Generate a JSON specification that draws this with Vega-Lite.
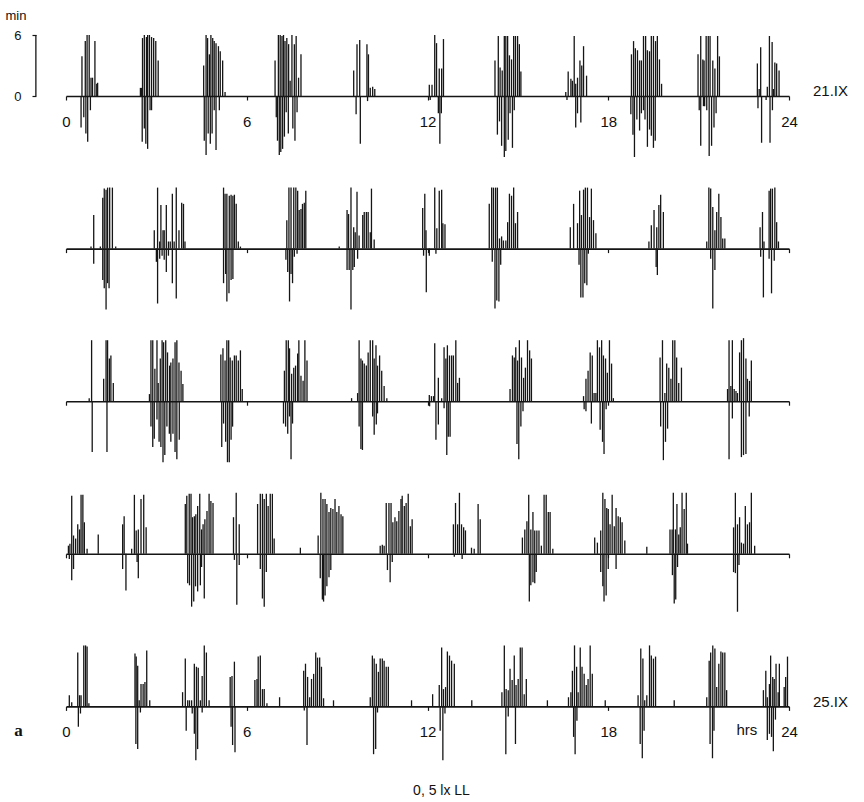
{
  "$schema": "https://vega.github.io/schema/vega-lite/v6.json",
  "background": "white",
  "padding": {"left": 5, "top": 10, "right": 5, "bottom": 2},
  "config": {"view": {"stroke": null}, "font": "Liberation Sans", "axis": {"grid": false, "labelFlush": false, "labelOverlap": false}},
  "datasets": {
    "bars": [
      {"d":1,"t":0.53,"v":3.9},{"d":1,"t":0.64,"v":5.4},{"d":1,"t":0.70,"v":6},{"d":1,"t":0.77,"v":6},{"d":1,"t":0.83,"v":1.8},{"d":1,"t":0.88,"v":1.8},{"d":1,"t":0.96,"v":5.4},{"d":1,"t":1.02,"v":1.2},{"d":1,"t":1.05,"v":1.3},
      {"d":1,"t":0.50,"v":-3.1},{"d":1,"t":0.59,"v":-2.1},{"d":1,"t":0.66,"v":-3.7},{"d":1,"t":0.72,"v":-4.5},{"d":1,"t":0.81,"v":-1.4},
      {"d":1,"t":2.47,"v":0.8},{"d":1,"t":2.51,"v":0.8},{"d":1,"t":2.54,"v":5.7},{"d":1,"t":2.60,"v":6},{"d":1,"t":2.67,"v":5.8},{"d":1,"t":2.71,"v":6},{"d":1,"t":2.77,"v":6},{"d":1,"t":2.84,"v":5.8},{"d":1,"t":2.91,"v":5.7},{"d":1,"t":2.98,"v":5.4},{"d":1,"t":3.06,"v":3.5},
      {"d":1,"t":2.53,"v":-4.5},{"d":1,"t":2.60,"v":-3.2},{"d":1,"t":2.65,"v":-4.7},{"d":1,"t":2.71,"v":-5.2},{"d":1,"t":2.79,"v":-1.4},{"d":1,"t":2.84,"v":-1.4},
      {"d":1,"t":4.57,"v":3.0},{"d":1,"t":4.65,"v":6},{"d":1,"t":4.70,"v":5.7},{"d":1,"t":4.76,"v":4.1},{"d":1,"t":4.81,"v":6},{"d":1,"t":4.87,"v":5.7},{"d":1,"t":4.92,"v":5.4},{"d":1,"t":4.98,"v":5.2},{"d":1,"t":5.06,"v":4.9},{"d":1,"t":5.12,"v":4.4},{"d":1,"t":5.20,"v":3.5},{"d":1,"t":5.28,"v":0.4},
      {"d":1,"t":4.59,"v":-4.4},{"d":1,"t":4.65,"v":-5.8},{"d":1,"t":4.72,"v":-3.7},{"d":1,"t":4.79,"v":-4.7},{"d":1,"t":4.85,"v":-3.7},{"d":1,"t":4.92,"v":-1.4},{"d":1,"t":4.98,"v":-5.3},{"d":1,"t":5.09,"v":-1.4},
      {"d":1,"t":6.94,"v":3.5},{"d":1,"t":7.05,"v":6},{"d":1,"t":7.11,"v":6},{"d":1,"t":7.17,"v":5.9},{"d":1,"t":7.22,"v":6},{"d":1,"t":7.27,"v":5.4},{"d":1,"t":7.33,"v":5.7},{"d":1,"t":7.39,"v":5.1},{"d":1,"t":7.44,"v":1.5},{"d":1,"t":7.50,"v":6},{"d":1,"t":7.58,"v":5.1},{"d":1,"t":7.64,"v":5.9},{"d":1,"t":7.72,"v":1.8},{"d":1,"t":7.80,"v":4.1},
      {"d":1,"t":6.98,"v":-2.1},{"d":1,"t":7.02,"v":-4.4},{"d":1,"t":7.08,"v":-5.8},{"d":1,"t":7.13,"v":-5.5},{"d":1,"t":7.19,"v":-5.2},{"d":1,"t":7.25,"v":-4.0},{"d":1,"t":7.31,"v":-1.6},{"d":1,"t":7.38,"v":-3.7},{"d":1,"t":7.53,"v":-3.2},{"d":1,"t":7.60,"v":-4.4},{"d":1,"t":7.67,"v":-1.6},
      {"d":1,"t":9.55,"v":2.5},{"d":1,"t":9.66,"v":5.1},{"d":1,"t":9.75,"v":5.5},{"d":1,"t":9.99,"v":5.1},{"d":1,"t":10.04,"v":4.1},{"d":1,"t":10.10,"v":0.8},{"d":1,"t":10.18,"v":0.9},{"d":1,"t":10.25,"v":0.7},
      {"d":1,"t":9.63,"v":-1.8},{"d":1,"t":9.77,"v":-4.7},{"d":1,"t":10.01,"v":-0.5},
      {"d":1,"t":12.06,"v":1.1},{"d":1,"t":12.15,"v":1.1},{"d":1,"t":12.24,"v":6},{"d":1,"t":12.30,"v":5.2},{"d":1,"t":12.39,"v":2.7},{"d":1,"t":12.47,"v":2.7},{"d":1,"t":12.53,"v":5.6},
      {"d":1,"t":12.09,"v":-0.4},{"d":1,"t":12.36,"v":-1.7},{"d":1,"t":12.41,"v":-4.7},{"d":1,"t":12.46,"v":-1.7},
      {"d":1,"t":14.24,"v":3.5},{"d":1,"t":14.35,"v":5.9},{"d":1,"t":14.41,"v":2.8},{"d":1,"t":14.48,"v":2.5},{"d":1,"t":14.55,"v":5.9},{"d":1,"t":14.60,"v":5.9},{"d":1,"t":14.66,"v":5.9},{"d":1,"t":14.72,"v":4.0},{"d":1,"t":14.79,"v":3.6},{"d":1,"t":14.86,"v":5.9},{"d":1,"t":14.92,"v":5.9},{"d":1,"t":14.99,"v":5.9},{"d":1,"t":15.05,"v":5.1},{"d":1,"t":15.10,"v":2.4},
      {"d":1,"t":14.32,"v":-3.8},{"d":1,"t":14.39,"v":-2.5},{"d":1,"t":14.46,"v":-4.9},{"d":1,"t":14.55,"v":-6},{"d":1,"t":14.60,"v":-5.4},{"d":1,"t":14.68,"v":-4.3},{"d":1,"t":14.74,"v":-1.7},{"d":1,"t":14.82,"v":-5.1},{"d":1,"t":14.88,"v":-1.4},
      {"d":1,"t":16.59,"v":0.4},{"d":1,"t":16.67,"v":2.4},{"d":1,"t":16.76,"v":1.7},{"d":1,"t":16.81,"v":1.5},{"d":1,"t":16.87,"v":5.9},{"d":1,"t":16.92,"v":1.2},{"d":1,"t":16.98,"v":1.8},{"d":1,"t":17.06,"v":3.5},{"d":1,"t":17.12,"v":3.0},{"d":1,"t":17.18,"v":4.9},{"d":1,"t":17.28,"v":2.0},
      {"d":1,"t":16.63,"v":-0.4},{"d":1,"t":16.92,"v":-3.1},{"d":1,"t":16.98,"v":-1.7},{"d":1,"t":17.09,"v":-2.6},
      {"d":1,"t":18.77,"v":4.1},{"d":1,"t":18.84,"v":5.4},{"d":1,"t":18.90,"v":4.7},{"d":1,"t":18.97,"v":4.5},{"d":1,"t":19.04,"v":3.5},{"d":1,"t":19.10,"v":3.5},{"d":1,"t":19.17,"v":5.9},{"d":1,"t":19.24,"v":5.9},{"d":1,"t":19.30,"v":4.5},{"d":1,"t":19.37,"v":4.4},{"d":1,"t":19.43,"v":5.9},{"d":1,"t":19.50,"v":5.9},{"d":1,"t":19.57,"v":5.4},{"d":1,"t":19.63,"v":5.9},{"d":1,"t":19.70,"v":3.6},{"d":1,"t":19.77,"v":1.2},
      {"d":1,"t":18.75,"v":-1.8},{"d":1,"t":18.82,"v":-3.8},{"d":1,"t":18.87,"v":-6},{"d":1,"t":18.95,"v":-2.3},{"d":1,"t":19.04,"v":-3.4},{"d":1,"t":19.10,"v":-1.7},{"d":1,"t":19.17,"v":-1.4},{"d":1,"t":19.22,"v":-2.3},{"d":1,"t":19.30,"v":-5.0},{"d":1,"t":19.37,"v":-3.3},{"d":1,"t":19.43,"v":-3.9},{"d":1,"t":19.50,"v":-5.1},{"d":1,"t":19.56,"v":-4.4},
      {"d":1,"t":20.98,"v":4.1},{"d":1,"t":21.07,"v":5.9},{"d":1,"t":21.14,"v":3.6},{"d":1,"t":21.18,"v":3.5},{"d":1,"t":21.25,"v":5.9},{"d":1,"t":21.32,"v":5.9},{"d":1,"t":21.38,"v":5.9},{"d":1,"t":21.47,"v":3.5},{"d":1,"t":21.54,"v":2.7},{"d":1,"t":21.63,"v":5.9},{"d":1,"t":21.69,"v":3.9},
      {"d":1,"t":21.02,"v":-1.4},{"d":1,"t":21.07,"v":-4.9},{"d":1,"t":21.16,"v":-1.0},{"d":1,"t":21.20,"v":-1.0},{"d":1,"t":21.27,"v":-1.4},{"d":1,"t":21.35,"v":-5.9},{"d":1,"t":21.43,"v":-4.9},{"d":1,"t":21.51,"v":-3.1},{"d":1,"t":21.58,"v":-1.7},
      {"d":1,"t":22.95,"v":3.2},{"d":1,"t":23.01,"v":0.7},{"d":1,"t":23.06,"v":4.8},{"d":1,"t":23.28,"v":0.9},{"d":1,"t":23.35,"v":5.9},{"d":1,"t":23.44,"v":5.3},{"d":1,"t":23.48,"v":0.7},{"d":1,"t":23.53,"v":3.3},{"d":1,"t":23.59,"v":3.2},{"d":1,"t":23.67,"v":2.5},
      {"d":1,"t":22.97,"v":-1.2},{"d":1,"t":23.09,"v":-4.6},{"d":1,"t":23.24,"v":-0.4},{"d":1,"t":23.37,"v":-4.6},{"d":1,"t":23.45,"v":-1.4},

      {"d":2,"t":0.83,"v":0.2},{"d":2,"t":0.92,"v":3.3},{"d":2,"t":1.14,"v":0.2},{"d":2,"t":1.22,"v":5.0},{"d":2,"t":1.27,"v":5.9},{"d":2,"t":1.33,"v":5.8},{"d":2,"t":1.38,"v":6},{"d":2,"t":1.45,"v":6},{"d":2,"t":1.54,"v":6},{"d":2,"t":1.65,"v":0.2},
      {"d":2,"t":0.92,"v":-1.5},{"d":2,"t":1.22,"v":-3.1},{"d":2,"t":1.27,"v":-3.9},{"d":2,"t":1.33,"v":-6.0},{"d":2,"t":1.38,"v":-3.4},{"d":2,"t":1.43,"v":-3.9},
      {"d":2,"t":2.93,"v":1.8},{"d":2,"t":3.04,"v":6},{"d":2,"t":3.11,"v":0.7},{"d":2,"t":3.15,"v":4.3},{"d":2,"t":3.22,"v":1.8},{"d":2,"t":3.26,"v":1.8},{"d":2,"t":3.33,"v":4.3},{"d":2,"t":3.40,"v":0.7},{"d":2,"t":3.46,"v":0.7},{"d":2,"t":3.53,"v":5.4},{"d":2,"t":3.59,"v":0.7},{"d":2,"t":3.66,"v":6},{"d":2,"t":3.75,"v":1.8},{"d":2,"t":3.84,"v":4.5},{"d":2,"t":3.90,"v":4.4},{"d":2,"t":3.95,"v":0.7},
      {"d":2,"t":3.00,"v":-1.3},{"d":2,"t":3.04,"v":-5.4},{"d":2,"t":3.11,"v":-1.0},{"d":2,"t":3.19,"v":-0.7},{"d":2,"t":3.26,"v":-1.1},{"d":2,"t":3.33,"v":-2.3},{"d":2,"t":3.40,"v":-0.7},{"d":2,"t":3.53,"v":-3.4},{"d":2,"t":3.66,"v":-4.9},
      {"d":2,"t":5.23,"v":6},{"d":2,"t":5.28,"v":5.4},{"d":2,"t":5.34,"v":5.4},{"d":2,"t":5.42,"v":5.2},{"d":2,"t":5.48,"v":5.3},{"d":2,"t":5.54,"v":5.2},{"d":2,"t":5.59,"v":5.3},{"d":2,"t":5.65,"v":4.4},{"d":2,"t":5.72,"v":0.7},{"d":2,"t":5.79,"v":0.2},
      {"d":2,"t":5.23,"v":-3.4},{"d":2,"t":5.30,"v":-2.5},{"d":2,"t":5.34,"v":-5.2},{"d":2,"t":5.41,"v":-4.4},{"d":2,"t":5.48,"v":-3.1},{"d":2,"t":5.54,"v":-3.0},
      {"d":2,"t":7.33,"v":2.8},{"d":2,"t":7.40,"v":6},{"d":2,"t":7.47,"v":6},{"d":2,"t":7.56,"v":6},{"d":2,"t":7.63,"v":6},{"d":2,"t":7.69,"v":5.7},{"d":2,"t":7.74,"v":3.8},{"d":2,"t":7.80,"v":3.9},{"d":2,"t":7.85,"v":4.4},{"d":2,"t":7.91,"v":4.5},{"d":2,"t":7.96,"v":5.7},
      {"d":2,"t":7.30,"v":-1.1},{"d":2,"t":7.36,"v":-2.3},{"d":2,"t":7.42,"v":-5.2},{"d":2,"t":7.47,"v":-2.5},{"d":2,"t":7.52,"v":-3.4},{"d":2,"t":7.58,"v":-0.8},{"d":2,"t":7.67,"v":-0.5},
      {"d":2,"t":9.07,"v":0.2},{"d":2,"t":9.33,"v":3.8},{"d":2,"t":9.38,"v":3.4},{"d":2,"t":9.46,"v":6},{"d":2,"t":9.55,"v":2.1},{"d":2,"t":9.60,"v":1.6},{"d":2,"t":9.66,"v":5.6},{"d":2,"t":9.73,"v":1.3},{"d":2,"t":9.85,"v":3.3},{"d":2,"t":9.90,"v":3.6},{"d":2,"t":9.97,"v":3.6},{"d":2,"t":10.03,"v":3.6},{"d":2,"t":10.10,"v":1.6},{"d":2,"t":10.14,"v":5.9},{"d":2,"t":10.23,"v":0.9},
      {"d":2,"t":9.33,"v":-2.1},{"d":2,"t":9.40,"v":-2.1},{"d":2,"t":9.46,"v":-6.0},{"d":2,"t":9.52,"v":-2.1},{"d":2,"t":9.57,"v":-1.8},{"d":2,"t":9.68,"v":-1.0},
      {"d":2,"t":11.84,"v":4.0},{"d":2,"t":11.91,"v":5.4},{"d":2,"t":11.95,"v":1.8},{"d":2,"t":12.24,"v":6},{"d":2,"t":12.31,"v":2.0},{"d":2,"t":12.39,"v":5.7},{"d":2,"t":12.47,"v":5.8},{"d":2,"t":12.51,"v":2.5},{"d":2,"t":12.58,"v":2.4},
      {"d":2,"t":11.87,"v":-0.7},{"d":2,"t":11.96,"v":-4.3},{"d":2,"t":12.06,"v":-0.7},{"d":2,"t":12.28,"v":-0.5},
      {"d":2,"t":14.05,"v":4.4},{"d":2,"t":14.13,"v":6},{"d":2,"t":14.19,"v":6},{"d":2,"t":14.26,"v":6},{"d":2,"t":14.32,"v":6},{"d":2,"t":14.39,"v":1.0},{"d":2,"t":14.46,"v":1.2},{"d":2,"t":14.52,"v":0.8},{"d":2,"t":14.60,"v":0.8},{"d":2,"t":14.66,"v":2.6},{"d":2,"t":14.72,"v":5.4},{"d":2,"t":14.79,"v":5.2},{"d":2,"t":14.86,"v":6},{"d":2,"t":14.92,"v":2.5},{"d":2,"t":14.99,"v":3.6},
      {"d":2,"t":14.15,"v":-1.3},{"d":2,"t":14.24,"v":-5.9},{"d":2,"t":14.30,"v":-5.1},{"d":2,"t":14.37,"v":-5.2},{"d":2,"t":14.43,"v":-1.6},
      {"d":2,"t":16.74,"v":2.1},{"d":2,"t":16.85,"v":4.4},{"d":2,"t":16.98,"v":2.5},{"d":2,"t":17.05,"v":5.7},{"d":2,"t":17.11,"v":3.3},{"d":2,"t":17.18,"v":5.8},{"d":2,"t":17.24,"v":6},{"d":2,"t":17.31,"v":6},{"d":2,"t":17.38,"v":3.1},{"d":2,"t":17.44,"v":5.9},{"d":2,"t":17.51,"v":2.8},{"d":2,"t":17.59,"v":1.5},
      {"d":2,"t":17.03,"v":-1.6},{"d":2,"t":17.09,"v":-4.8},{"d":2,"t":17.16,"v":-4.8},{"d":2,"t":17.22,"v":-3.4},{"d":2,"t":17.29,"v":-3.6},{"d":2,"t":17.34,"v":-0.5},
      {"d":2,"t":19.35,"v":0.7},{"d":2,"t":19.43,"v":2.3},{"d":2,"t":19.52,"v":3.8},{"d":2,"t":19.61,"v":2.1},{"d":2,"t":19.68,"v":4.3},{"d":2,"t":19.74,"v":5.3},{"d":2,"t":19.83,"v":3.6},
      {"d":2,"t":19.59,"v":-1.8},{"d":2,"t":19.63,"v":-2.6},
      {"d":2,"t":21.27,"v":0.7},{"d":2,"t":21.34,"v":6},{"d":2,"t":21.40,"v":5.9},{"d":2,"t":21.47,"v":4.1},{"d":2,"t":21.54,"v":1.8},{"d":2,"t":21.60,"v":3.6},{"d":2,"t":21.67,"v":5.4},{"d":2,"t":21.74,"v":3.1},{"d":2,"t":21.80,"v":1.0},{"d":2,"t":21.87,"v":1.0},
      {"d":2,"t":21.40,"v":-1.0},{"d":2,"t":21.47,"v":-5.9},{"d":2,"t":21.54,"v":-2.1},
      {"d":2,"t":23.04,"v":2.1},{"d":2,"t":23.12,"v":3.6},{"d":2,"t":23.17,"v":0.7},{"d":2,"t":23.34,"v":5.7},{"d":2,"t":23.39,"v":5.9},{"d":2,"t":23.45,"v":5.9},{"d":2,"t":23.53,"v":6},{"d":2,"t":23.59,"v":2.6},{"d":2,"t":23.65,"v":0.7},
      {"d":2,"t":23.06,"v":-0.8},{"d":2,"t":23.15,"v":-4.8},{"d":2,"t":23.34,"v":-1.0},{"d":2,"t":23.42,"v":-4.4},{"d":2,"t":23.51,"v":-1.2},

      {"d":3,"t":0.77,"v":0.3},{"d":3,"t":0.85,"v":6},{"d":3,"t":1.25,"v":2.2},{"d":3,"t":1.33,"v":6},{"d":3,"t":1.38,"v":6},{"d":3,"t":1.44,"v":4.2},{"d":3,"t":1.49,"v":4.5},{"d":3,"t":1.57,"v":1.8},
      {"d":3,"t":0.87,"v":-5.0},{"d":3,"t":1.36,"v":-5.0},
      {"d":3,"t":2.77,"v":0.7},{"d":3,"t":2.82,"v":6},{"d":3,"t":2.88,"v":6},{"d":3,"t":2.95,"v":3.2},{"d":3,"t":3.02,"v":6},{"d":3,"t":3.06,"v":1.8},{"d":3,"t":3.13,"v":4.2},{"d":3,"t":3.19,"v":6},{"d":3,"t":3.24,"v":5.8},{"d":3,"t":3.31,"v":6},{"d":3,"t":3.37,"v":4.8},{"d":3,"t":3.44,"v":3.5},{"d":3,"t":3.48,"v":3.8},{"d":3,"t":3.55,"v":4.2},{"d":3,"t":3.62,"v":5.8},{"d":3,"t":3.68,"v":6},{"d":3,"t":3.75,"v":3.8},{"d":3,"t":3.82,"v":3.0},{"d":3,"t":3.88,"v":1.7},
      {"d":3,"t":2.82,"v":-2.5},{"d":3,"t":2.88,"v":-4.5},{"d":3,"t":2.93,"v":-3.7},{"d":3,"t":3.02,"v":-1.8},{"d":3,"t":3.09,"v":-4.0},{"d":3,"t":3.15,"v":-4.5},{"d":3,"t":3.22,"v":-6.0},{"d":3,"t":3.28,"v":-5.3},{"d":3,"t":3.35,"v":-2.5},{"d":3,"t":3.43,"v":-3.2},{"d":3,"t":3.48,"v":-4.0},{"d":3,"t":3.55,"v":-3.2},{"d":3,"t":3.62,"v":-5.0},{"d":3,"t":3.68,"v":-5.7},{"d":3,"t":3.76,"v":-3.8},
      {"d":3,"t":5.14,"v":4.6},{"d":3,"t":5.21,"v":5.2},{"d":3,"t":5.28,"v":4.0},{"d":3,"t":5.34,"v":6},{"d":3,"t":5.40,"v":6},{"d":3,"t":5.45,"v":4.3},{"d":3,"t":5.52,"v":4.0},{"d":3,"t":5.59,"v":4.5},{"d":3,"t":5.65,"v":4.5},{"d":3,"t":5.72,"v":4.0},{"d":3,"t":5.79,"v":5.0},{"d":3,"t":5.85,"v":1.2},
      {"d":3,"t":5.17,"v":-4.5},{"d":3,"t":5.23,"v":-2.2},{"d":3,"t":5.30,"v":-4.0},{"d":3,"t":5.36,"v":-6.0},{"d":3,"t":5.42,"v":-6.0},{"d":3,"t":5.48,"v":-3.8},{"d":3,"t":5.53,"v":-2.5},
      {"d":3,"t":7.25,"v":3.0},{"d":3,"t":7.31,"v":6},{"d":3,"t":7.38,"v":6},{"d":3,"t":7.42,"v":5.2},{"d":3,"t":7.49,"v":2.7},{"d":3,"t":7.56,"v":3.3},{"d":3,"t":7.62,"v":3.5},{"d":3,"t":7.69,"v":4.7},{"d":3,"t":7.73,"v":6},{"d":3,"t":7.80,"v":2.5},{"d":3,"t":7.87,"v":2.0},{"d":3,"t":7.93,"v":6},{"d":3,"t":8.00,"v":4.0},
      {"d":3,"t":7.22,"v":-2.2},{"d":3,"t":7.29,"v":-2.5},{"d":3,"t":7.36,"v":-3.2},{"d":3,"t":7.42,"v":-1.5},{"d":3,"t":7.47,"v":-5.7},{"d":3,"t":7.52,"v":-2.2},
      {"d":3,"t":9.48,"v":0.3},{"d":3,"t":9.68,"v":0.8},{"d":3,"t":9.73,"v":6},{"d":3,"t":9.79,"v":4.2},{"d":3,"t":9.84,"v":4.0},{"d":3,"t":9.90,"v":3.7},{"d":3,"t":9.97,"v":3.5},{"d":3,"t":10.03,"v":4.8},{"d":3,"t":10.10,"v":6},{"d":3,"t":10.18,"v":6},{"d":3,"t":10.23,"v":4.2},{"d":3,"t":10.29,"v":5.5},{"d":3,"t":10.34,"v":3.5},{"d":3,"t":10.41,"v":4.5},{"d":3,"t":10.48,"v":3.0},{"d":3,"t":10.56,"v":1.5},{"d":3,"t":10.65,"v":0.3},
      {"d":3,"t":9.73,"v":-2.5},{"d":3,"t":9.79,"v":-4.7},{"d":3,"t":9.84,"v":-4.8},{"d":3,"t":10.18,"v":-1.5},{"d":3,"t":10.23,"v":-3.3},{"d":3,"t":10.30,"v":-2.3},{"d":3,"t":10.34,"v":-1.2},
      {"d":3,"t":12.06,"v":0.6},{"d":3,"t":12.13,"v":0.5},{"d":3,"t":12.20,"v":0.5},{"d":3,"t":12.24,"v":5.7},{"d":3,"t":12.36,"v":2.3},{"d":3,"t":12.47,"v":0.3},{"d":3,"t":12.55,"v":5.3},{"d":3,"t":12.61,"v":4.2},{"d":3,"t":12.66,"v":5.5},{"d":3,"t":12.73,"v":4.5},{"d":3,"t":12.80,"v":4.5},{"d":3,"t":12.86,"v":4.5},{"d":3,"t":12.94,"v":6},{"d":3,"t":13.00,"v":1.8},{"d":3,"t":13.06,"v":2.3},
      {"d":3,"t":12.07,"v":-0.5},{"d":3,"t":12.28,"v":-3.8},{"d":3,"t":12.36,"v":-2.3},{"d":3,"t":12.55,"v":-0.7},{"d":3,"t":12.64,"v":-5.3},{"d":3,"t":12.69,"v":-3.5},{"d":3,"t":12.75,"v":-3.5},
      {"d":3,"t":14.74,"v":1.2},{"d":3,"t":14.82,"v":4.5},{"d":3,"t":14.88,"v":4.3},{"d":3,"t":14.93,"v":5.3},{"d":3,"t":14.99,"v":4.0},{"d":3,"t":15.05,"v":6},{"d":3,"t":15.12,"v":4.3},{"d":3,"t":15.19,"v":2.3},{"d":3,"t":15.25,"v":3.3},{"d":3,"t":15.32,"v":6},{"d":3,"t":15.39,"v":5.0},{"d":3,"t":15.45,"v":4.2},
      {"d":3,"t":14.97,"v":-4.2},{"d":3,"t":15.03,"v":-5.7},{"d":3,"t":15.10,"v":-2.5},{"d":3,"t":15.17,"v":-1.0},
      {"d":3,"t":17.18,"v":0.5},{"d":3,"t":17.26,"v":2.2},{"d":3,"t":17.33,"v":3.0},{"d":3,"t":17.40,"v":4.8},{"d":3,"t":17.47,"v":4.5},{"d":3,"t":17.53,"v":0.8},{"d":3,"t":17.59,"v":0.8},{"d":3,"t":17.64,"v":6},{"d":3,"t":17.71,"v":5.3},{"d":3,"t":17.78,"v":6},{"d":3,"t":17.84,"v":4.5},{"d":3,"t":17.91,"v":4.2},{"d":3,"t":17.97,"v":2.8},{"d":3,"t":18.04,"v":6},{"d":3,"t":18.11,"v":3.7},{"d":3,"t":18.17,"v":0.3},
      {"d":3,"t":17.20,"v":-0.8},{"d":3,"t":17.26,"v":-1.0},{"d":3,"t":17.44,"v":-2.2},{"d":3,"t":17.73,"v":-2.8},{"d":3,"t":17.81,"v":-4.0},{"d":3,"t":17.86,"v":-5.2},{"d":3,"t":17.93,"v":-0.8},
      {"d":3,"t":19.72,"v":4.3},{"d":3,"t":19.80,"v":6},{"d":3,"t":19.88,"v":0.8},{"d":3,"t":19.94,"v":3.7},{"d":3,"t":20.01,"v":3.3},{"d":3,"t":20.08,"v":2.2},{"d":3,"t":20.14,"v":6},{"d":3,"t":20.21,"v":6},{"d":3,"t":20.27,"v":4.3},{"d":3,"t":20.34,"v":1.8},{"d":3,"t":20.43,"v":3.3},
      {"d":3,"t":19.74,"v":-2.5},{"d":3,"t":19.83,"v":-5.8},{"d":3,"t":19.90,"v":-4.0},{"d":3,"t":19.97,"v":-2.7},
      {"d":3,"t":21.96,"v":1.2},{"d":3,"t":22.01,"v":6},{"d":3,"t":22.07,"v":1.5},{"d":3,"t":22.12,"v":6},{"d":3,"t":22.18,"v":1.2},{"d":3,"t":22.24,"v":1.0},{"d":3,"t":22.29,"v":0.8},{"d":3,"t":22.36,"v":4.8},{"d":3,"t":22.42,"v":6},{"d":3,"t":22.49,"v":6.2},{"d":3,"t":22.57,"v":4.2},{"d":3,"t":22.62,"v":2.2},{"d":3,"t":22.69,"v":2.0},{"d":3,"t":22.75,"v":4.0},
      {"d":3,"t":22.01,"v":-5.7},{"d":3,"t":22.12,"v":-1.7},{"d":3,"t":22.42,"v":-5.5},{"d":3,"t":22.49,"v":-5.3},{"d":3,"t":22.57,"v":-5.2},{"d":3,"t":22.68,"v":-1.5},

      {"d":4,"t":0.08,"v":0.8},{"d":4,"t":0.13,"v":1.0},{"d":4,"t":0.19,"v":5.7},{"d":4,"t":0.25,"v":1.8},{"d":4,"t":0.32,"v":1.5},{"d":4,"t":0.39,"v":2.9},{"d":4,"t":0.45,"v":2.4},{"d":4,"t":0.50,"v":5.8},{"d":4,"t":0.56,"v":5.8},{"d":4,"t":0.61,"v":3.1},{"d":4,"t":0.70,"v":0.5},{"d":4,"t":1.07,"v":1.9},
      {"d":4,"t":0.11,"v":-0.5},{"d":4,"t":0.19,"v":-2.6},{"d":4,"t":0.25,"v":-1.5},
      {"d":4,"t":1.88,"v":2.9},{"d":4,"t":1.93,"v":3.7},{"d":4,"t":2.18,"v":0.5},{"d":4,"t":2.27,"v":5.8},{"d":4,"t":2.33,"v":2.3},{"d":4,"t":2.40,"v":2.4},{"d":4,"t":2.49,"v":5.4},{"d":4,"t":2.58,"v":5.8},{"d":4,"t":2.66,"v":2.6},
      {"d":4,"t":1.88,"v":-1.5},{"d":4,"t":1.99,"v":-3.6},{"d":4,"t":2.36,"v":-0.8},{"d":4,"t":2.40,"v":-2.4},
      {"d":4,"t":3.96,"v":4.9},{"d":4,"t":4.01,"v":5.7},{"d":4,"t":4.09,"v":5.9},{"d":4,"t":4.15,"v":5.9},{"d":4,"t":4.20,"v":3.6},{"d":4,"t":4.26,"v":3.7},{"d":4,"t":4.31,"v":3.9},{"d":4,"t":4.37,"v":4.7},{"d":4,"t":4.44,"v":5.9},{"d":4,"t":4.50,"v":2.4},{"d":4,"t":4.55,"v":2.9},{"d":4,"t":4.61,"v":3.4},{"d":4,"t":4.68,"v":4.2},{"d":4,"t":4.75,"v":5.9},{"d":4,"t":4.81,"v":5.2},{"d":4,"t":4.88,"v":5.0},
      {"d":4,"t":4.04,"v":-2.9},{"d":4,"t":4.10,"v":-3.1},{"d":4,"t":4.17,"v":-5.2},{"d":4,"t":4.24,"v":-4.7},{"d":4,"t":4.30,"v":-3.2},{"d":4,"t":4.37,"v":-3.7},{"d":4,"t":4.46,"v":-3.1},{"d":4,"t":4.50,"v":-1.3},{"d":4,"t":4.59,"v":-4.4},
      {"d":4,"t":5.56,"v":3.6},{"d":4,"t":5.65,"v":6},{"d":4,"t":5.75,"v":2.9},
      {"d":4,"t":5.59,"v":-0.6},{"d":4,"t":5.67,"v":-5.0},{"d":4,"t":5.75,"v":-1.1},
      {"d":4,"t":6.36,"v":4.9},{"d":4,"t":6.45,"v":5.9},{"d":4,"t":6.52,"v":5.9},{"d":4,"t":6.58,"v":5.4},{"d":4,"t":6.65,"v":5.9},{"d":4,"t":6.71,"v":4.7},{"d":4,"t":6.78,"v":5.9},{"d":4,"t":6.85,"v":5.9},{"d":4,"t":6.91,"v":1.5},
      {"d":4,"t":6.45,"v":-1.5},{"d":4,"t":6.52,"v":-4.4},{"d":4,"t":6.58,"v":-5.2},{"d":4,"t":6.65,"v":-1.8},
      {"d":4,"t":7.78,"v":0.6},
      {"d":4,"t":8.37,"v":1.8},{"d":4,"t":8.46,"v":6},{"d":4,"t":8.53,"v":5.4},{"d":4,"t":8.60,"v":5.4},{"d":4,"t":8.66,"v":4.9},{"d":4,"t":8.73,"v":4.1},{"d":4,"t":8.79,"v":4.5},{"d":4,"t":8.86,"v":4.4},{"d":4,"t":8.93,"v":5.4},{"d":4,"t":8.99,"v":4.1},{"d":4,"t":9.06,"v":4.7},{"d":4,"t":9.13,"v":3.9},{"d":4,"t":9.19,"v":3.7},
      {"d":4,"t":8.44,"v":-2.4},{"d":4,"t":8.51,"v":-4.5},{"d":4,"t":8.55,"v":-4.7},{"d":4,"t":8.60,"v":-4.1},{"d":4,"t":8.66,"v":-3.2},{"d":4,"t":8.73,"v":-2.3},{"d":4,"t":8.79,"v":-1.6},
      {"d":4,"t":10.43,"v":0.8},{"d":4,"t":10.50,"v":0.9},{"d":4,"t":10.56,"v":0.8},{"d":4,"t":10.63,"v":5.0},{"d":4,"t":10.72,"v":5.0},{"d":4,"t":10.79,"v":5.0},{"d":4,"t":10.85,"v":3.1},{"d":4,"t":10.92,"v":3.6},{"d":4,"t":10.98,"v":3.2},{"d":4,"t":11.05,"v":4.2},{"d":4,"t":11.12,"v":5.4},{"d":4,"t":11.16,"v":5.7},{"d":4,"t":11.23,"v":4.7},{"d":4,"t":11.29,"v":5.0},{"d":4,"t":11.36,"v":5.9},{"d":4,"t":11.43,"v":2.7},{"d":4,"t":11.49,"v":3.4},
      {"d":4,"t":10.67,"v":-1.6},{"d":4,"t":10.76,"v":-2.8},{"d":4,"t":10.83,"v":-0.8},
      {"d":4,"t":12.86,"v":2.9},{"d":4,"t":12.93,"v":5.0},{"d":4,"t":13.00,"v":2.9},{"d":4,"t":13.06,"v":6},{"d":4,"t":13.13,"v":2.9},{"d":4,"t":13.20,"v":2.6},{"d":4,"t":13.26,"v":2.3},{"d":4,"t":13.46,"v":0.6},{"d":4,"t":13.55,"v":0.5},{"d":4,"t":13.68,"v":4.9},{"d":4,"t":13.75,"v":3.4},
      {"d":4,"t":12.89,"v":-0.3},{"d":4,"t":13.15,"v":-0.5},
      {"d":4,"t":15.15,"v":1.6},{"d":4,"t":15.23,"v":2.4},{"d":4,"t":15.30,"v":3.2},{"d":4,"t":15.36,"v":5.8},{"d":4,"t":15.43,"v":2.4},{"d":4,"t":15.50,"v":4.1},{"d":4,"t":15.56,"v":2.3},{"d":4,"t":15.63,"v":2.3},{"d":4,"t":15.70,"v":2.3},{"d":4,"t":15.78,"v":0.8},{"d":4,"t":15.87,"v":5.8},{"d":4,"t":15.94,"v":5.8},{"d":4,"t":16.01,"v":4.1},{"d":4,"t":16.07,"v":4.1},{"d":4,"t":16.16,"v":0.5},
      {"d":4,"t":15.38,"v":-4.7},{"d":4,"t":15.43,"v":-3.1},{"d":4,"t":15.50,"v":-2.8},{"d":4,"t":15.56,"v":-2.9},{"d":4,"t":15.61,"v":-1.8},
      {"d":4,"t":17.55,"v":1.6},{"d":4,"t":17.64,"v":1.1},{"d":4,"t":17.75,"v":2.3},{"d":4,"t":17.82,"v":6},{"d":4,"t":17.89,"v":5.4},{"d":4,"t":17.95,"v":4.5},{"d":4,"t":18.00,"v":4.4},{"d":4,"t":18.06,"v":2.9},{"d":4,"t":18.13,"v":5.8},{"d":4,"t":18.20,"v":2.7},{"d":4,"t":18.26,"v":4.5},{"d":4,"t":18.33,"v":3.7},{"d":4,"t":18.40,"v":3.6},{"d":4,"t":18.46,"v":3.1},{"d":4,"t":18.55,"v":1.3},
      {"d":4,"t":17.75,"v":-1.8},{"d":4,"t":17.82,"v":-3.2},{"d":4,"t":17.86,"v":-4.7},{"d":4,"t":17.93,"v":-4.1},{"d":4,"t":18.00,"v":-1.5},{"d":4,"t":18.26,"v":-1.5},
      {"d":4,"t":19.28,"v":0.7},
      {"d":4,"t":20.05,"v":2.4},{"d":4,"t":20.12,"v":2.4},{"d":4,"t":20.16,"v":6},{"d":4,"t":20.23,"v":2.4},{"d":4,"t":20.28,"v":4.9},{"d":4,"t":20.34,"v":1.9},{"d":4,"t":20.39,"v":2.6},{"d":4,"t":20.45,"v":6},{"d":4,"t":20.52,"v":4.4},{"d":4,"t":20.59,"v":6},{"d":4,"t":20.63,"v":1.0},
      {"d":4,"t":20.13,"v":-2.1},{"d":4,"t":20.19,"v":-4.9},{"d":4,"t":20.24,"v":-4.5},{"d":4,"t":20.30,"v":-1.3},
      {"d":4,"t":22.16,"v":2.6},{"d":4,"t":22.22,"v":6},{"d":4,"t":22.29,"v":2.9},{"d":4,"t":22.36,"v":3.6},{"d":4,"t":22.42,"v":1.1},{"d":4,"t":22.49,"v":1.0},{"d":4,"t":22.55,"v":4.7},{"d":4,"t":22.62,"v":2.9},{"d":4,"t":22.69,"v":3.1},{"d":4,"t":22.75,"v":6},{"d":4,"t":22.86,"v":0.8},
      {"d":4,"t":22.16,"v":-1.8},{"d":4,"t":22.22,"v":-1.9},{"d":4,"t":22.29,"v":-5.7},{"d":4,"t":22.34,"v":-1.1},

      {"d":5,"t":0.11,"v":1.1},{"d":5,"t":0.19,"v":0.4},{"d":5,"t":0.39,"v":5.3},{"d":5,"t":0.45,"v":1.1},{"d":5,"t":0.50,"v":1.1},{"d":5,"t":0.59,"v":6},{"d":5,"t":0.65,"v":6},{"d":5,"t":0.70,"v":5.9},{"d":5,"t":0.76,"v":0.3},
      {"d":5,"t":0.41,"v":-2.0},{"d":5,"t":0.48,"v":-0.7},
      {"d":5,"t":2.29,"v":5.2},{"d":5,"t":2.33,"v":4.9},{"d":5,"t":2.38,"v":4.0},{"d":5,"t":2.43,"v":0.6},{"d":5,"t":2.49,"v":2.2},{"d":5,"t":2.56,"v":2.2},{"d":5,"t":2.62,"v":2.4},{"d":5,"t":2.68,"v":5.5},{"d":5,"t":2.78,"v":0.6},
      {"d":5,"t":2.32,"v":-3.7},{"d":5,"t":2.38,"v":-4.2},{"d":5,"t":2.47,"v":-0.6},
      {"d":5,"t":3.87,"v":1.4},{"d":5,"t":3.96,"v":4.7},{"d":5,"t":4.04,"v":0.6},{"d":5,"t":4.10,"v":0.6},{"d":5,"t":4.17,"v":0.6},{"d":5,"t":4.26,"v":4.2},{"d":5,"t":4.33,"v":3.9},{"d":5,"t":4.39,"v":3.8},{"d":5,"t":4.46,"v":0.6},{"d":5,"t":4.52,"v":3.0},{"d":5,"t":4.59,"v":6},{"d":5,"t":4.66,"v":5.3},{"d":5,"t":4.75,"v":0.6},
      {"d":5,"t":3.99,"v":-2.4},{"d":5,"t":4.19,"v":-0.7},{"d":5,"t":4.26,"v":-2.7},{"d":5,"t":4.31,"v":-5.3},{"d":5,"t":4.37,"v":-4.2},{"d":5,"t":4.52,"v":-0.6},
      {"d":5,"t":5.45,"v":2.9},{"d":5,"t":5.51,"v":3.0},{"d":5,"t":5.59,"v":4.4},
      {"d":5,"t":5.48,"v":-2.0},{"d":5,"t":5.53,"v":-3.8},{"d":5,"t":5.61,"v":-4.5},
      {"d":5,"t":6.27,"v":2.6},{"d":5,"t":6.34,"v":2.7},{"d":5,"t":6.38,"v":4.9},{"d":5,"t":6.45,"v":5.0},{"d":5,"t":6.52,"v":1.7},{"d":5,"t":6.58,"v":1.7},{"d":5,"t":6.67,"v":0.3},
      {"d":5,"t":7.09,"v":0.9},
      {"d":5,"t":7.89,"v":3.5},{"d":5,"t":7.95,"v":4.2},{"d":5,"t":8.02,"v":2.9},{"d":5,"t":8.09,"v":0.9},{"d":5,"t":8.15,"v":2.7},{"d":5,"t":8.22,"v":3.2},{"d":5,"t":8.29,"v":5.3},{"d":5,"t":8.35,"v":4.8},{"d":5,"t":8.42,"v":4.8},{"d":5,"t":8.48,"v":3.9},{"d":5,"t":8.55,"v":0.8},
      {"d":5,"t":7.91,"v":-0.4},{"d":5,"t":8.00,"v":-3.8},
      {"d":5,"t":8.88,"v":0.6},
      {"d":5,"t":10.10,"v":0.9},{"d":5,"t":10.17,"v":5.0},{"d":5,"t":10.23,"v":4.7},{"d":5,"t":10.30,"v":4.2},{"d":5,"t":10.37,"v":3.4},{"d":5,"t":10.43,"v":4.7},{"d":5,"t":10.50,"v":4.7},{"d":5,"t":10.56,"v":4.5},{"d":5,"t":10.63,"v":3.9},{"d":5,"t":10.70,"v":3.9},
      {"d":5,"t":10.21,"v":-4.7},{"d":5,"t":10.28,"v":-4.2},{"d":5,"t":10.34,"v":-0.6},
      {"d":5,"t":11.47,"v":0.6},
      {"d":5,"t":12.17,"v":1.2},{"d":5,"t":12.39,"v":2.1},{"d":5,"t":12.47,"v":5.8},{"d":5,"t":12.53,"v":1.7},{"d":5,"t":12.60,"v":1.9},{"d":5,"t":12.66,"v":5.4},{"d":5,"t":12.73,"v":5.0},{"d":5,"t":12.80,"v":4.5},{"d":5,"t":12.89,"v":4.2},
      {"d":5,"t":12.42,"v":-2.4},{"d":5,"t":12.51,"v":-5.3},{"d":5,"t":12.58,"v":-0.7},
      {"d":5,"t":13.47,"v":0.6},
      {"d":5,"t":14.47,"v":1.4},{"d":5,"t":14.55,"v":6},{"d":5,"t":14.61,"v":1.7},{"d":5,"t":14.68,"v":1.6},{"d":5,"t":14.74,"v":3.7},{"d":5,"t":14.81,"v":2.6},{"d":5,"t":14.88,"v":5.0},{"d":5,"t":14.94,"v":2.1},{"d":5,"t":15.01,"v":2.7},{"d":5,"t":15.08,"v":5.8},{"d":5,"t":15.14,"v":5.8},{"d":5,"t":15.21,"v":1.2},{"d":5,"t":15.28,"v":2.7},
      {"d":5,"t":14.60,"v":-4.7},{"d":5,"t":14.68,"v":-1.0},{"d":5,"t":14.92,"v":-3.7},
      {"d":5,"t":15.98,"v":0.6},
      {"d":5,"t":16.68,"v":0.9},{"d":5,"t":16.76,"v":1.4},{"d":5,"t":16.81,"v":3.5},{"d":5,"t":16.88,"v":6},{"d":5,"t":16.95,"v":3.9},{"d":5,"t":17.00,"v":1.4},{"d":5,"t":17.07,"v":5.8},{"d":5,"t":17.13,"v":3.9},{"d":5,"t":17.20,"v":3.2},{"d":5,"t":17.27,"v":2.1},{"d":5,"t":17.33,"v":2.7},{"d":5,"t":17.40,"v":6},{"d":5,"t":17.47,"v":3.2},
      {"d":5,"t":16.85,"v":-3.0},{"d":5,"t":16.90,"v":-4.7},{"d":5,"t":16.96,"v":-1.4},
      {"d":5,"t":17.90,"v":0.6},
      {"d":5,"t":18.99,"v":1.1},{"d":5,"t":19.08,"v":5.7},{"d":5,"t":19.15,"v":4.7},{"d":5,"t":19.21,"v":0.6},{"d":5,"t":19.28,"v":1.1},{"d":5,"t":19.37,"v":6},{"d":5,"t":19.43,"v":5.0},{"d":5,"t":19.50,"v":4.7},{"d":5,"t":19.57,"v":4.9},
      {"d":5,"t":19.06,"v":-3.7},{"d":5,"t":19.13,"v":-5.1},{"d":5,"t":19.19,"v":-2.4},
      {"d":5,"t":20.19,"v":0.6},
      {"d":5,"t":21.27,"v":0.9},{"d":5,"t":21.35,"v":4.5},{"d":5,"t":21.40,"v":5.3},{"d":5,"t":21.47,"v":6},{"d":5,"t":21.54,"v":5.7},{"d":5,"t":21.60,"v":1.9},{"d":5,"t":21.67,"v":4.2},{"d":5,"t":21.74,"v":5.4},{"d":5,"t":21.80,"v":5.3},{"d":5,"t":21.87,"v":5.3},{"d":5,"t":21.93,"v":1.6},
      {"d":5,"t":21.38,"v":-3.7},{"d":5,"t":21.46,"v":-5.1},{"d":5,"t":21.51,"v":-2.4},
      {"d":5,"t":23.15,"v":1.6},{"d":5,"t":23.23,"v":3.5},{"d":5,"t":23.28,"v":0.9},{"d":5,"t":23.35,"v":2.2},{"d":5,"t":23.39,"v":5.0},{"d":5,"t":23.46,"v":2.9},{"d":5,"t":23.51,"v":2.7},{"d":5,"t":23.57,"v":4.2},{"d":5,"t":23.64,"v":1.4},{"d":5,"t":23.68,"v":4.2},{"d":5,"t":23.84,"v":1.9},{"d":5,"t":23.89,"v":2.9},{"d":5,"t":23.95,"v":4.9},
      {"d":5,"t":23.28,"v":-3.3},{"d":5,"t":23.35,"v":-2.7},{"d":5,"t":23.42,"v":-3.0},{"d":5,"t":23.48,"v":-4.4},{"d":5,"t":23.55,"v":-1.3}
    ]
  },
  "spacing": 30.6,
  "bounds": "flush",
  "vconcat": [
    {
      "width": 723, "height": 122,
      "layer": [
        {
          "data": {"name": "bars"},
          "transform": [{"filter": "datum.d == 1"}],
          "mark": {"type": "rule", "color": "#151515", "strokeWidth": 1.3},
          "encoding": {
            "x": {"field": "t", "type": "quantitative", "scale": {"domain": [0, 24], "nice": false, "zero": false},
                  "axis": {"values": [0, 6, 12, 18, 24], "offset": -61, "title": null, "domainColor": "#151515", "domainWidth": 1.6, "tickColor": "#151515", "tickSize": 4, "tickWidth": 1.2, "labelFontSize": 15, "labelColor": "#111", "labelPadding": 14}},
            "y": {"field": "v", "type": "quantitative", "scale": {"domain": [-6, 6], "nice": false},
                  "axis": {"values": [0, 6], "offset": 30, "domain": false, "title": null, "tickColor": "#151515", "tickSize": 4, "tickWidth": 1.2, "labelFontSize": 13, "labelColor": "#111", "labelPadding": 11}},
            "y2": {"datum": 0}
          }
        },
        {
          "data": {"values": [{}]},
          "mark": {"type": "rule", "color": "#151515", "strokeWidth": 1.3},
          "encoding": {"x": {"datum": -1}, "y": {"datum": 0}, "y2": {"datum": 6}}
        },
        {
          "data": {"values": [{}]},
          "mark": {"type": "text", "fontSize": 13, "dy": -19, "color": "#111"},
          "encoding": {"x": {"datum": -1.66}, "y": {"datum": 6}, "text": {"value": "min"}}
        },
        {
          "data": {"values": [{}]},
          "mark": {"type": "text", "fontSize": 15, "dx": 24, "dy": -5, "align": "left", "color": "#111"},
          "encoding": {"x": {"datum": 24}, "y": {"datum": 0}, "text": {"value": "21.IX"}}
        }
      ]
    },
    {
      "width": 723, "height": 122,
      "data": {"name": "bars"},
      "transform": [{"filter": "datum.d == 2"}],
      "mark": {"type": "rule", "color": "#151515", "strokeWidth": 1.3},
      "encoding": {
        "x": {"field": "t", "type": "quantitative", "scale": {"domain": [0, 24], "nice": false, "zero": false},
              "axis": {"values": [0, 6, 12, 18, 24], "offset": -61, "title": null, "labels": false, "domainColor": "#151515", "domainWidth": 1.6, "tickColor": "#151515", "tickSize": 4, "tickWidth": 1.2}},
        "y": {"field": "v", "type": "quantitative", "scale": {"domain": [-6, 6], "nice": false}, "axis": null},
        "y2": {"datum": 0}
      }
    },
    {
      "width": 723, "height": 122,
      "data": {"name": "bars"},
      "transform": [{"filter": "datum.d == 3"}],
      "mark": {"type": "rule", "color": "#151515", "strokeWidth": 1.3},
      "encoding": {
        "x": {"field": "t", "type": "quantitative", "scale": {"domain": [0, 24], "nice": false, "zero": false},
              "axis": {"values": [0, 6, 12, 18, 24], "offset": -61, "title": null, "labels": false, "domainColor": "#151515", "domainWidth": 1.6, "tickColor": "#151515", "tickSize": 4, "tickWidth": 1.2}},
        "y": {"field": "v", "type": "quantitative", "scale": {"domain": [-6, 6], "nice": false}, "axis": null},
        "y2": {"datum": 0}
      }
    },
    {
      "width": 723, "height": 122,
      "data": {"name": "bars"},
      "transform": [{"filter": "datum.d == 4"}],
      "mark": {"type": "rule", "color": "#151515", "strokeWidth": 1.3},
      "encoding": {
        "x": {"field": "t", "type": "quantitative", "scale": {"domain": [0, 24], "nice": false, "zero": false},
              "axis": {"values": [0, 6, 12, 18, 24], "offset": -61, "title": null, "labels": false, "domainColor": "#151515", "domainWidth": 1.6, "tickColor": "#151515", "tickSize": 4, "tickWidth": 1.2}},
        "y": {"field": "v", "type": "quantitative", "scale": {"domain": [-6, 6], "nice": false}, "axis": null},
        "y2": {"datum": 0}
      }
    },
    {
      "width": 723, "height": 122,
      "layer": [
        {
          "data": {"name": "bars"},
          "transform": [{"filter": "datum.d == 5"}],
          "mark": {"type": "rule", "color": "#151515", "strokeWidth": 1.3},
          "encoding": {
            "x": {"field": "t", "type": "quantitative", "scale": {"domain": [0, 24], "nice": false, "zero": false},
                  "axis": {"values": [0, 6, 12, 18, 24], "offset": -61, "title": "0, 5 lx  LL", "titleFontSize": 14, "titleFontWeight": "normal", "titleColor": "#111", "titlePadding": 44, "titleX": 375, "domainColor": "#151515", "domainWidth": 1.6, "tickColor": "#151515", "tickSize": 4, "tickWidth": 1.2, "labelFontSize": 15, "labelColor": "#111", "labelPadding": 14}},
            "y": {"field": "v", "type": "quantitative", "scale": {"domain": [-6, 6], "nice": false}, "axis": null},
            "y2": {"datum": 0}
          }
        },
        {
          "data": {"values": [{}]},
          "mark": {"type": "text", "fontSize": 15, "dx": 24, "dy": -4, "align": "left", "color": "#111"},
          "encoding": {"x": {"datum": 24}, "y": {"datum": 0}, "text": {"value": "25.IX"}}
        },
        {
          "data": {"values": [{}]},
          "mark": {"type": "text", "fontSize": 15, "dy": 24, "color": "#111"},
          "encoding": {"x": {"datum": 22.6}, "y": {"datum": 0}, "text": {"value": "hrs"}}
        },
        {
          "data": {"values": [{}]},
          "mark": {"type": "text", "fontSize": 17, "dy": 25, "font": "Liberation Serif", "fontWeight": "bold", "color": "#111"},
          "encoding": {"x": {"datum": -1.58}, "y": {"datum": 0}, "text": {"value": "a"}}
        }
      ]
    }
  ]
}
